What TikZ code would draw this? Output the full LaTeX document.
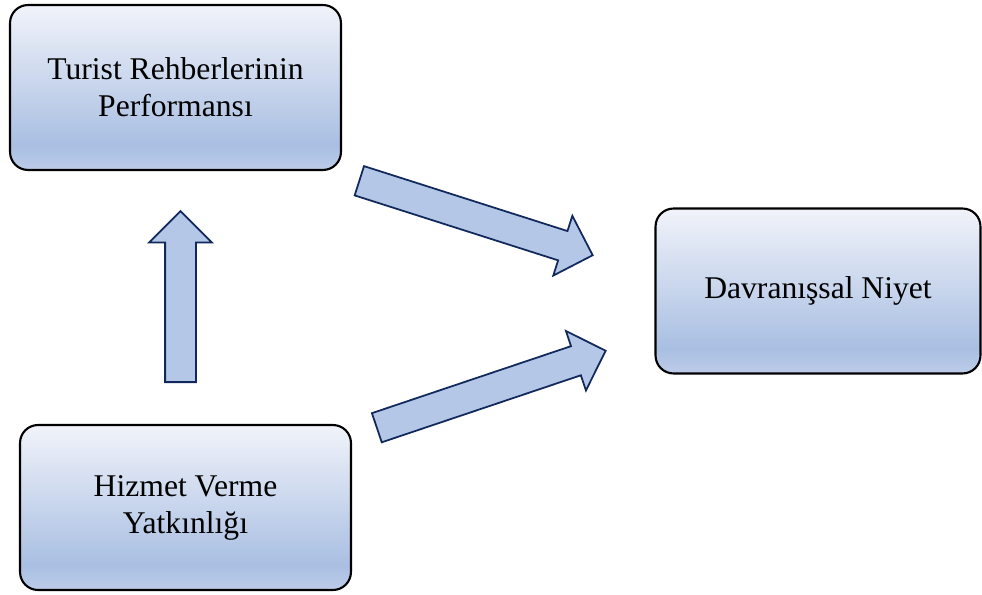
\documentclass[tikz,border=0pt]{standalone}
\usepackage{fontspec}
\setmainfont{Liberation Serif}
\newfontfamily\boxfont{Liberation Serif}
\usetikzlibrary{shapes.arrows}

\definecolor{boxtop}{HTML}{F1F3FA}
\definecolor{boxmid}{HTML}{A9BFE2}
\definecolor{boxbot}{HTML}{BDCCE8}
\definecolor{arrfill}{HTML}{B4C7E7}
\definecolor{arrline}{HTML}{10285C}

\pgfdeclareverticalshading{boxshade}{100bp}{color(0bp)=(boxbot); color(25bp)=(boxbot);
  color(32.5bp)=(boxmid); color(75bp)=(boxtop); color(100bp)=(boxtop)}

\begin{document}
\begin{tikzpicture}[
            x = 0.02cm, y = -0.02cm, % pixel grid, y downwards
            semithick
        ]

        \tikzstyle{box}=[
            draw = black,
            line width = 1.2pt,
            rounded corners = 0.36cm,
            shading = boxshade,
            minimum width = 6.62cm,
            minimum height = 3.3cm,
            align = center,
            font = \boxfont\fontsize{18}{21}\selectfont
        ]

        \tikzstyle{block}=[
            single arrow,
            anchor = tail, % place by the flat end
            draw = arrline,
            line width = 1pt,
            fill = arrfill,
            inner xsep = 0pt,
            inner ysep = 0.29cm, % half the shaft
            single arrow head extend = 0.32cm
        ]

        \useasboundingbox (0,0) rectangle (982,594);

        \node[box] (p) at (175.5,87.5) {Turist Rehberlerinin\\Performansı};
        \node[box, minimum width=6.5cm] (n) at (818,291) {Davranışsal Niyet};
        \node[box] (h) at (185.5,507.5) {Hizmet Verme\\Yatkınlığı};

        \node[block, minimum height=3.42cm, rotate=90] (a1) at (180.5,383) {};
        \node[block, minimum height=4.9cm, rotate=-17.7] (a2) at (358.5,180.5) {};
        \node[block, minimum height=4.83cm, rotate=18.6] (a3) at (376,428) {};
    \end{tikzpicture}
\end{document}
